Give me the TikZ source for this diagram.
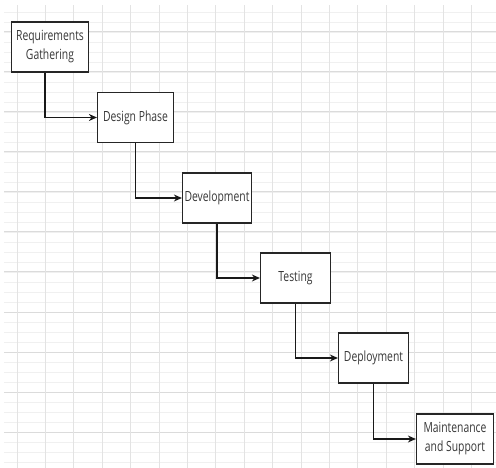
\documentclass[tikz,border=0pt]{standalone}
\usepackage{fontspec}
\setmainfont[FakeStretch=0.74]{Open Sans}
\usetikzlibrary{arrows.meta}
\tikzset{
  phase/.style={draw=black!85, line width=1.2pt, fill=white, inner sep=2pt,
    align=center, text=black!78, font=\fontsize{14}{19}\selectfont,
    minimum height=50pt},
  flow/.style={draw=black!90, line width=1.2pt, -{Stealth[length=8pt,width=7pt]}},
}
\begin{document}
\begin{tikzpicture}[x=1pt,y=-1pt]
	\useasboundingbox (0,0) rectangle (496,468);
	% background grid
	\foreach \y in {12,22,...,462}
		\draw[black!6,line width=0.8pt] (4,\y) -- (496,\y);
	\foreach \y in {32,72,...,432}
		\draw[black!14,line width=1pt] (4,\y) -- (496,\y);
	\foreach \i in {0,...,16}
		\draw[black!11,line width=1pt] ({17+28.4*\i},5) -- ({17+28.4*\i},468);
	% phases
	\node[phase, minimum width=77pt] (req) at (50,47) {Requirements\\Gathering};
	\node[phase, minimum width=76pt] (des) at (135.5,117.5) {Design Phase};
	\node[phase, minimum width=69pt] (dev) at (217,198) {Development};
	\node[phase, minimum width=70pt] (tst) at (295.5,278) {Testing};
	\node[phase, minimum width=70pt] (dep) at (373.5,358) {Deployment};
	\node[phase, minimum width=77pt] (mnt) at (455,439) {Maintenance\\and Support};
	% arrows
	\draw[flow] ([xshift=-5pt]req.south) |- (des.west);
	\draw[flow] (des.south) |- (dev.west);
	\draw[flow] (dev.south) |- (tst.west);
	\draw[flow] (tst.south) |- (dep.west);
	\draw[flow] (dep.south) |- (mnt.west);
\end{tikzpicture}
\end{document}
